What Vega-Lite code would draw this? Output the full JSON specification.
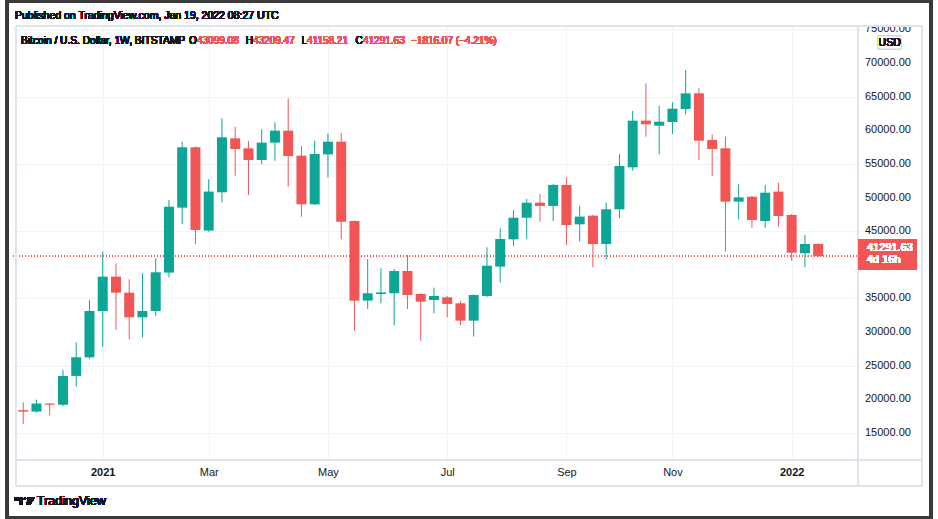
{
  "$schema": "https://vega.github.io/schema/vega-lite/v6.json",
  "width": 852,
  "height": 434,
  "autosize": {"type": "none"},
  "padding": {"left": 11, "top": 26, "right": 75, "bottom": 59},
  "background": "white",
  "view": {"stroke": null},
  "config": {
    "font": "Liberation Sans",
    "axis": {"labelFont": "Liberation Sans", "labelFontSize": 11, "labelColor": "#131722", "gridColor": "#f0f3fa", "gridWidth": 1, "ticks": false, "domain": false, "title": null, "labelOverlap": false},
    "text": {"font": "Liberation Sans", "fontWeight": "normal"}
  },
  "datasets": {
    "yticks": [{"v": 15000}, {"v": 20000}, {"v": 25000}, {"v": 30000}, {"v": 35000}, {"v": 45000}, {"v": 50000}, {"v": 55000}, {"v": 60000}, {"v": 65000}, {"v": 70000}, {"v": 75000}]
  },
  "data": {"values": [
    {"date": "2020-11-23", "open": 18400, "high": 19560, "low": 16330, "close": 18180},
    {"date": "2020-11-30", "open": 18180, "high": 19950, "low": 18050, "close": 19380},
    {"date": "2020-12-07", "open": 19380, "high": 19420, "low": 17650, "close": 19200},
    {"date": "2020-12-14", "open": 19200, "high": 24360, "low": 19000, "close": 23480},
    {"date": "2020-12-21", "open": 23480, "high": 28480, "low": 21890, "close": 26250},
    {"date": "2020-12-28", "open": 26250, "high": 34770, "low": 26000, "close": 33130},
    {"date": "2021-01-04", "open": 33130, "high": 41950, "low": 27830, "close": 38240},
    {"date": "2021-01-11", "open": 38240, "high": 40220, "low": 30310, "close": 35860},
    {"date": "2021-01-18", "open": 35860, "high": 37850, "low": 28930, "close": 32200},
    {"date": "2021-01-25", "open": 32200, "high": 38740, "low": 29220, "close": 33130},
    {"date": "2021-02-01", "open": 33130, "high": 40980, "low": 32390, "close": 38890},
    {"date": "2021-02-08", "open": 38840, "high": 49630, "low": 38140, "close": 48640},
    {"date": "2021-02-15", "open": 48500, "high": 58300, "low": 46030, "close": 57470},
    {"date": "2021-02-22", "open": 57470, "high": 57600, "low": 43100, "close": 45170},
    {"date": "2021-03-01", "open": 45090, "high": 52710, "low": 44920, "close": 50880},
    {"date": "2021-03-08", "open": 50780, "high": 61780, "low": 49240, "close": 58960},
    {"date": "2021-03-15", "open": 58800, "high": 60540, "low": 53250, "close": 57220},
    {"date": "2021-03-22", "open": 57320, "high": 58410, "low": 50380, "close": 55580},
    {"date": "2021-03-29", "open": 55580, "high": 60140, "low": 54940, "close": 58160},
    {"date": "2021-04-05", "open": 58160, "high": 61180, "low": 55480, "close": 59940},
    {"date": "2021-04-12", "open": 59940, "high": 64750, "low": 51620, "close": 56180},
    {"date": "2021-04-19", "open": 56220, "high": 57660, "low": 47150, "close": 48990},
    {"date": "2021-04-26", "open": 48990, "high": 58450, "low": 48890, "close": 56470},
    {"date": "2021-05-03", "open": 56420, "high": 59550, "low": 53010, "close": 58300},
    {"date": "2021-05-10", "open": 58300, "high": 59640, "low": 43800, "close": 46400},
    {"date": "2021-05-17", "open": 46510, "high": 46600, "low": 30210, "close": 34670},
    {"date": "2021-05-24", "open": 34680, "high": 40860, "low": 33430, "close": 35770},
    {"date": "2021-05-31", "open": 35660, "high": 39480, "low": 34280, "close": 35900},
    {"date": "2021-06-07", "open": 35770, "high": 39380, "low": 31050, "close": 39080},
    {"date": "2021-06-14", "open": 39080, "high": 41460, "low": 33430, "close": 35510},
    {"date": "2021-06-21", "open": 35660, "high": 35770, "low": 28720, "close": 34530},
    {"date": "2021-06-28", "open": 34770, "high": 36600, "low": 32790, "close": 35360},
    {"date": "2021-07-05", "open": 35170, "high": 35360, "low": 32190, "close": 34180},
    {"date": "2021-07-12", "open": 34280, "high": 34670, "low": 31050, "close": 31700},
    {"date": "2021-07-19", "open": 31700, "high": 35600, "low": 29320, "close": 35510},
    {"date": "2021-07-26", "open": 35360, "high": 42600, "low": 35200, "close": 39870},
    {"date": "2021-08-02", "open": 39730, "high": 45420, "low": 37340, "close": 43840},
    {"date": "2021-08-09", "open": 43790, "high": 48150, "low": 42800, "close": 47000},
    {"date": "2021-08-16", "open": 47010, "high": 49790, "low": 43840, "close": 49240},
    {"date": "2021-08-23", "open": 49240, "high": 50530, "low": 46410, "close": 48750},
    {"date": "2021-08-30", "open": 48750, "high": 52000, "low": 46510, "close": 51870},
    {"date": "2021-09-06", "open": 51870, "high": 53010, "low": 42950, "close": 45920},
    {"date": "2021-09-13", "open": 46020, "high": 48780, "low": 43440, "close": 47160},
    {"date": "2021-09-20", "open": 47310, "high": 47400, "low": 39630, "close": 43100},
    {"date": "2021-09-27", "open": 43100, "high": 49240, "low": 40820, "close": 48250},
    {"date": "2021-10-04", "open": 48250, "high": 56470, "low": 46910, "close": 54690},
    {"date": "2021-10-11", "open": 54490, "high": 62860, "low": 53990, "close": 61430},
    {"date": "2021-10-18", "open": 61430, "high": 66980, "low": 59050, "close": 60890},
    {"date": "2021-10-25", "open": 60680, "high": 63650, "low": 56430, "close": 61280},
    {"date": "2021-11-01", "open": 61230, "high": 64160, "low": 59450, "close": 63210},
    {"date": "2021-11-08", "open": 63160, "high": 68960, "low": 62370, "close": 65490},
    {"date": "2021-11-15", "open": 65490, "high": 66240, "low": 55580, "close": 58450},
    {"date": "2021-11-22", "open": 58550, "high": 59400, "low": 53200, "close": 57220},
    {"date": "2021-11-29", "open": 57320, "high": 59050, "low": 41950, "close": 49390},
    {"date": "2021-12-06", "open": 49390, "high": 51970, "low": 46760, "close": 50030},
    {"date": "2021-12-13", "open": 50130, "high": 50230, "low": 45520, "close": 46660},
    {"date": "2021-12-20", "open": 46510, "high": 51860, "low": 45520, "close": 50720},
    {"date": "2021-12-27", "open": 50880, "high": 52210, "low": 45670, "close": 47260},
    {"date": "2022-01-03", "open": 47410, "high": 47560, "low": 40570, "close": 41800},
    {"date": "2022-01-10", "open": 41720, "high": 44430, "low": 39630, "close": 43100},
    {"date": "2022-01-17", "open": 43099.08, "high": 43209.47, "low": 41158.21, "close": 41291.63}
  ]},
  "layer": [
    {
      "mark": {"type": "rect", "filled": false, "stroke": "#3a3a3a", "strokeWidth": 3},
      "encoding": {
        "x": {"datum": {"year": 2020, "month": 11, "date": 14, "hours": 5, "minutes": 30, "utc": true}, "type": "temporal",
          "scale": {"type": "utc", "domain": [{"year": 2020, "month": 11, "date": 19, "hours": 4, "minutes": 30, "utc": true}, {"year": 2022, "month": 2, "date": 7, "hours": 1, "utc": true}]}},
        "x2": {"datum": {"year": 2022, "month": 3, "date": 17, "hours": 10, "utc": true}},
        "y": {"datum": 79142, "type": "quantitative",
          "scale": {"domain": [10984, 75500], "nice": false, "zero": false}},
        "y2": {"datum": 2436}
      }
    },
    {
      "mark": {"type": "rule", "color": "#f25555", "strokeDash": [1, 2], "strokeWidth": 1},
      "encoding": {"y": {"datum": 41291.63, "type": "quantitative"}}
    },
    {
      "mark": {"type": "rule", "strokeWidth": 1},
      "encoding": {
        "x": {"field": "date", "type": "temporal",
          "axis": {"orient": "bottom", "grid": true, "labelPadding": 6, "labelFontSize": 11, "labelOverlap": false,
            "values": [{"year": 2021, "month": 1, "date": 4, "utc": true}, {"year": 2021, "month": 3, "date": 1, "utc": true}, {"year": 2021, "month": 5, "date": 3, "utc": true}, {"year": 2021, "month": 7, "date": 5, "utc": true}, {"year": 2021, "month": 9, "date": 6, "utc": true}, {"year": 2021, "month": 11, "date": 1, "utc": true}, {"year": 2022, "month": 1, "date": 3, "utc": true}],
            "labelExpr": "utcFormat(datum.value, '%m') == '01' ? utcFormat(datum.value, '%Y') : utcFormat(datum.value, '%b')",
            "labelFontWeight": {"condition": {"test": "utcFormat(datum.value, '%m') == '01'", "value": "bold"}, "value": "normal"}}},
        "y": {"field": "low", "type": "quantitative",
          "axis": {"orient": "right", "labels": false, "grid": true,
            "values": [15000, 20000, 25000, 30000, 35000, 40000, 45000, 50000, 55000, 60000, 65000, 70000, 75000]}},
        "y2": {"field": "high"},
        "color": {"condition": {"test": "datum.open < datum.close", "value": "#0ca596"}, "value": "#f25555"}
      }
    },
    {
      "mark": {"type": "bar", "size": 10, "minBandSize": 1.5},
      "encoding": {
        "x": {"field": "date", "type": "temporal"},
        "y": {"field": "open", "type": "quantitative"},
        "y2": {"field": "close"},
        "color": {"condition": {"test": "datum.open < datum.close", "value": "#0ca596"}, "value": "#f25555"}
      }
    },
    {
      "data": {"name": "yticks"},
      "mark": {"type": "text", "fontSize": 11, "color": "#131722", "align": "left", "baseline": "middle", "dx": 7},
      "encoding": {
        "x": {"datum": {"year": 2022, "month": 2, "date": 7, "hours": 1, "utc": true}, "type": "temporal"},
        "y": {"field": "v", "type": "quantitative"},
        "text": {"field": "v", "type": "quantitative", "format": ".2f"}
      }
    },
    {
      "mark": {"type": "rect", "fill": "white", "strokeWidth": 0},
      "encoding": {
        "x": {"datum": {"year": 2022, "month": 2, "date": 7, "hours": 1, "utc": true}, "type": "temporal"},
        "x2": {"datum": {"year": 2022, "month": 3, "date": 12, "hours": 23, "minutes": 30, "utc": true}},
        "y": {"datum": 76392, "type": "quantitative"},
        "y2": {"datum": 75500}
      }
    },
    {
      "mark": {"type": "rect", "filled": false, "stroke": "#e0e3eb", "strokeWidth": 1},
      "encoding": {
        "x": {"datum": {"year": 2020, "month": 11, "date": 19, "hours": 4, "minutes": 30, "utc": true}, "type": "temporal"},
        "x2": {"datum": {"year": 2022, "month": 3, "date": 12, "hours": 23, "minutes": 30, "utc": true}},
        "y": {"datum": 75500, "type": "quantitative"},
        "y2": {"datum": 7119}
      }
    },
    {
      "mark": {"type": "rect", "filled": false, "stroke": "#e0e3eb", "strokeWidth": 1},
      "encoding": {
        "x": {"datum": {"year": 2020, "month": 11, "date": 19, "hours": 4, "minutes": 30, "utc": true}, "type": "temporal"},
        "x2": {"datum": {"year": 2022, "month": 3, "date": 12, "hours": 23, "minutes": 30, "utc": true}},
        "y": {"datum": 75500, "type": "quantitative"},
        "y2": {"datum": 10984}
      }
    },
    {
      "mark": {"type": "rect", "filled": false, "stroke": "#e0e3eb", "strokeWidth": 1},
      "encoding": {
        "x": {"datum": {"year": 2020, "month": 11, "date": 19, "hours": 4, "minutes": 30, "utc": true}, "type": "temporal"},
        "x2": {"datum": {"year": 2022, "month": 2, "date": 7, "hours": 1, "utc": true}},
        "y": {"datum": 75500, "type": "quantitative"},
        "y2": {"datum": 7119}
      }
    },
    {
      "mark": {"type": "rect", "fill": "white", "stroke": "#d1d4dc", "strokeWidth": 1, "cornerRadius": 2},
      "encoding": {
        "x": {"datum": {"year": 2022, "month": 2, "date": 17, "hours": 11, "minutes": 30, "utc": true}, "type": "temporal"},
        "x2": {"datum": {"year": 2022, "month": 3, "date": 2, "minutes": 15, "utc": true}},
        "y": {"datum": 74013, "type": "quantitative"},
        "y2": {"datum": 72081}
      }
    },
    {
      "mark": {"type": "text", "text": "USD", "fontSize": 10.5, "color": "#131722", "align": "center", "baseline": "middle"},
      "encoding": {
        "x": {"datum": {"year": 2022, "month": 2, "date": 23, "hours": 18, "utc": true}, "type": "temporal"},
        "y": {"datum": 73047, "type": "quantitative"}
      }
    },
    {
      "mark": {"type": "rect", "fill": "#f25555", "strokeWidth": 0},
      "encoding": {
        "x": {"datum": {"year": 2022, "month": 2, "date": 7, "hours": 1, "utc": true}, "type": "temporal"},
        "x2": {"datum": {"year": 2022, "month": 3, "date": 9, "hours": 20, "utc": true}},
        "y": {"datum": 43792, "type": "quantitative"},
        "y2": {"datum": 39332}
      }
    },
    {
      "mark": {"type": "text", "text": "41291.63", "fontSize": 11, "color": "white", "align": "left", "baseline": "middle", "dx": 9, "dy": -8},
      "encoding": {
        "x": {"datum": {"year": 2022, "month": 2, "date": 7, "hours": 1, "utc": true}, "type": "temporal"},
        "y": {"datum": 41291.63, "type": "quantitative"}
      }
    },
    {
      "mark": {"type": "text", "text": "4d 16h", "fontSize": 11, "color": "white", "align": "left", "baseline": "middle", "dx": 9, "dy": 4},
      "encoding": {
        "x": {"datum": {"year": 2022, "month": 2, "date": 7, "hours": 1, "utc": true}, "type": "temporal"},
        "y": {"datum": 41291.63, "type": "quantitative"}
      }
    },
    {
      "mark": {"type": "text", "text": "Published on TradingView.com, Jan 19, 2022 08:27 UTC", "fontSize": 10.5, "color": "#131722", "align": "left", "baseline": "middle", "dx": -1},
      "encoding": {
        "x": {"datum": {"year": 2020, "month": 11, "date": 19, "hours": 4, "minutes": 30, "utc": true}, "type": "temporal"},
        "y": {"datum": 76987, "type": "quantitative"}
      }
    },
    {
      "mark": {"type": "text", "text": "Bitcoin / U.S. Dollar, 1W, BITSTAMP", "fontSize": 10.2, "color": "#131722", "align": "left", "baseline": "middle", "dx": 5},
      "encoding": {
        "x": {"datum": {"year": 2020, "month": 11, "date": 19, "hours": 4, "minutes": 30, "utc": true}, "type": "temporal"},
        "y": {"datum": 73270, "type": "quantitative"}
      }
    },
    {
      "mark": {"type": "text", "text": "O", "fontSize": 10, "color": "#131722", "align": "left", "baseline": "middle", "dx": 173},
      "encoding": {
        "x": {"datum": {"year": 2020, "month": 11, "date": 19, "hours": 4, "minutes": 30, "utc": true}, "type": "temporal"},
        "y": {"datum": 73270, "type": "quantitative"}
      }
    },
    {
      "mark": {"type": "text", "text": "43099.08", "fontSize": 10, "color": "#f25555", "align": "left", "baseline": "middle", "dx": 181},
      "encoding": {
        "x": {"datum": {"year": 2020, "month": 11, "date": 19, "hours": 4, "minutes": 30, "utc": true}, "type": "temporal"},
        "y": {"datum": 73270, "type": "quantitative"}
      }
    },
    {
      "mark": {"type": "text", "text": "H", "fontSize": 10, "color": "#131722", "align": "left", "baseline": "middle", "dx": 229.7},
      "encoding": {
        "x": {"datum": {"year": 2020, "month": 11, "date": 19, "hours": 4, "minutes": 30, "utc": true}, "type": "temporal"},
        "y": {"datum": 73270, "type": "quantitative"}
      }
    },
    {
      "mark": {"type": "text", "text": "43209.47", "fontSize": 10, "color": "#f25555", "align": "left", "baseline": "middle", "dx": 237},
      "encoding": {
        "x": {"datum": {"year": 2020, "month": 11, "date": 19, "hours": 4, "minutes": 30, "utc": true}, "type": "temporal"},
        "y": {"datum": 73270, "type": "quantitative"}
      }
    },
    {
      "mark": {"type": "text", "text": "L", "fontSize": 10, "color": "#131722", "align": "left", "baseline": "middle", "dx": 285.5},
      "encoding": {
        "x": {"datum": {"year": 2020, "month": 11, "date": 19, "hours": 4, "minutes": 30, "utc": true}, "type": "temporal"},
        "y": {"datum": 73270, "type": "quantitative"}
      }
    },
    {
      "mark": {"type": "text", "text": "41158.21", "fontSize": 10, "color": "#f25555", "align": "left", "baseline": "middle", "dx": 291},
      "encoding": {
        "x": {"datum": {"year": 2020, "month": 11, "date": 19, "hours": 4, "minutes": 30, "utc": true}, "type": "temporal"},
        "y": {"datum": 73270, "type": "quantitative"}
      }
    },
    {
      "mark": {"type": "text", "text": "C", "fontSize": 10, "color": "#131722", "align": "left", "baseline": "middle", "dx": 339.5},
      "encoding": {
        "x": {"datum": {"year": 2020, "month": 11, "date": 19, "hours": 4, "minutes": 30, "utc": true}, "type": "temporal"},
        "y": {"datum": 73270, "type": "quantitative"}
      }
    },
    {
      "mark": {"type": "text", "text": "41291.63", "fontSize": 10, "color": "#f25555", "align": "left", "baseline": "middle", "dx": 347},
      "encoding": {
        "x": {"datum": {"year": 2020, "month": 11, "date": 19, "hours": 4, "minutes": 30, "utc": true}, "type": "temporal"},
        "y": {"datum": 73270, "type": "quantitative"}
      }
    },
    {
      "mark": {"type": "text", "text": "−1816.07 (−4.21%)", "fontSize": 10, "color": "#f25555", "align": "left", "baseline": "middle", "dx": 395},
      "encoding": {
        "x": {"datum": {"year": 2020, "month": 11, "date": 19, "hours": 4, "minutes": 30, "utc": true}, "type": "temporal"},
        "y": {"datum": 73270, "type": "quantitative"}
      }
    },
    {
      "mark": {"type": "point", "filled": true, "color": "#131722", "opacity": 1, "strokeWidth": 0, "size": 400,
        "shape": "M-1,-0.35 L-0.2,-0.35 L-0.2,0.35 L-0.5,0.35 L-0.5,-0.05 L-1,-0.05 Z M-0.12,-0.22 A0.12,0.12 0 1,0 0.12,-0.22 A0.12,0.12 0 1,0 -0.12,-0.22 Z M0.3,-0.35 L1,-0.35 L0.55,0.35 L0.15,0.35 Z"},
      "encoding": {
        "x": {"datum": {"year": 2020, "month": 11, "date": 23, "hours": 21, "minutes": 20, "utc": true}, "type": "temporal"},
        "y": {"datum": 4889, "type": "quantitative"}
      }
    },
    {
      "mark": {"type": "text", "text": "TradingView", "fontSize": 12.5, "color": "#131722", "align": "left", "baseline": "middle", "dx": 21},
      "encoding": {
        "x": {"datum": {"year": 2020, "month": 11, "date": 19, "hours": 4, "minutes": 30, "utc": true}, "type": "temporal"},
        "y": {"datum": 4889, "type": "quantitative"}
      }
    }
  ]
}
